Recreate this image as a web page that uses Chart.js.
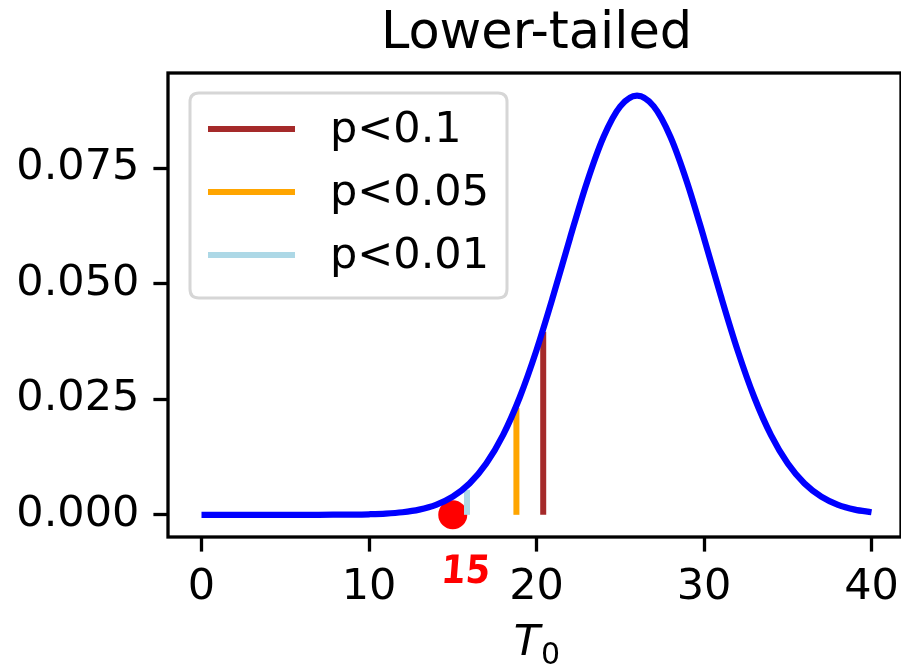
<!DOCTYPE html>
<html><head><meta charset="utf-8">
<script src="https://cdn.jsdelivr.net/npm/chart.js@4.4.1/dist/chart.umd.min.js"></script>
<style>
html,body{margin:0;padding:0;overflow:hidden;background:#fff;width:901px;height:666px}
canvas{display:block}
</style>
</head><body><canvas id="c" width="901" height="666" style="width:901px;height:666px"></canvas>
<script>
const titleText = 'Lower-tailed';
const tValues = [0,1,2,3,4,5,6,7,8,9,10,11,12,13,14,15,16,17,18,19,20,21,22,23,24,25,26,27,28,29,30,31,32,33,34,35,36,37,38,39,40];
const density = [0,0,0,0,0,0,0,0.000001,0.00002,0.00005,0.00012,0.00026,0.00056,0.00113,0.00216,0.00393,0.00677,0.01109,0.01724,0.02544,0.03564,0.04741,0.05988,0.07182,0.08176,0.08838,0.0907,0.08838,0.08176,0.07182,0.05988,0.04741,0.03564,0.02544,0.01724,0.01109,0.00677,0.00393,0.00216,0.00113,0.00056];
const cutoffLabels = ['p<0.1','p<0.05','p<0.01'];
const cutoffX = [20.4, 18.8, 15.85];
const cutoffTop = [0.0396, 0.0231, 0.0054];
const cutoffColors = ['#a52a2a','#ffa500','#add8e6'];
const observedT = 15;
const observedY = 0;
const observedLabel = '15';
const xTicks = [0,10,20,30,40];
const yTicks = [0,0.025,0.05,0.075];
const xRange = [-2, 41.76];
const yRange = [-0.0048, 0.0956];

const FONT = '"DejaVu Sans", sans-serif';
const FS = 43;

const datasets = [];
datasets.push({
  label: 'density',
  data: tValues.map((t,i)=>({x:t,y:density[i]})),
  showLine: true, borderColor: '#0000ff', borderWidth: 6.25,
  pointRadius: 0, cubicInterpolationMode: 'monotone', borderCapStyle: 'butt'
});
cutoffX.forEach((cx,i)=>{
  datasets.push({
    label: cutoffLabels[i],
    data: [{x:cx,y:0},{x:cx,y:cutoffTop[i]}],
    showLine: true, borderColor: cutoffColors[i], borderWidth: 6,
    pointRadius: 0, borderCapStyle: 'butt'
  });
});
datasets.push({
  label: 'observed',
  data: [{x:observedT,y:observedY}],
  showLine: false, pointRadius: 14.5, pointHoverRadius: 14.5,
  backgroundColor: '#ff0000', borderWidth: 0
});

const extras = {
  id: 'extras',
  afterDatasetsDraw(chart){
    const ctx = chart.ctx, a = chart.chartArea;
    const xs = chart.scales.x;
    ctx.save();
    // frame
    ctx.strokeStyle = '#000'; ctx.lineWidth = 3.3;
    ctx.strokeRect(a.left, a.top, a.right - a.left, a.bottom - a.top);
    // legend
    const lx = 190, ly = 93, lw = 317, lh = 205, r = 9;
    ctx.beginPath();
    ctx.moveTo(lx+r, ly); ctx.lineTo(lx+lw-r, ly); ctx.quadraticCurveTo(lx+lw, ly, lx+lw, ly+r);
    ctx.lineTo(lx+lw, ly+lh-r); ctx.quadraticCurveTo(lx+lw, ly+lh, lx+lw-r, ly+lh);
    ctx.lineTo(lx+r, ly+lh); ctx.quadraticCurveTo(lx, ly+lh, lx, ly+lh-r);
    ctx.lineTo(lx, ly+r); ctx.quadraticCurveTo(lx, ly, lx+r, ly); ctx.closePath();
    ctx.fillStyle = 'rgba(255,255,255,0.8)'; ctx.fill();
    ctx.strokeStyle = '#d6d6d6'; ctx.lineWidth = 3; ctx.stroke();
    cutoffLabels.forEach((lab,i)=>{
      const y = 129 + i*63;
      ctx.strokeStyle = cutoffColors[i]; ctx.lineWidth = 6; ctx.lineCap = 'butt';
      ctx.beginPath(); ctx.moveTo(208, y); ctx.lineTo(295, y); ctx.stroke();
      ctx.fillStyle = '#000'; ctx.font = FS + 'px ' + FONT;
      ctx.textAlign = 'left'; ctx.textBaseline = 'middle';
      ctx.fillText(lab, 330, y + 2);
    });
    ctx.textBaseline = 'alphabetic';
    // annotation "15" (hand-written style)
    ctx.save();
    ctx.translate(xs.getPixelForValue(observedT) + 12, 583);
    ctx.transform(0.9, 0, -0.08, 1, 0, 0);
    ctx.fillStyle = '#ff0000'; ctx.font = 'bold 39px ' + FONT;
    ctx.textAlign = 'center'; ctx.textBaseline = 'alphabetic';
    ctx.fillText(observedLabel, 0, 0);
    ctx.restore();
    // x axis label T_0 (centred on the full plot box, which extends past the canvas)
    ctx.fillStyle = '#000';
    ctx.textBaseline = 'alphabetic';
    ctx.font = 'italic ' + FS + 'px ' + FONT;
    ctx.textAlign = 'left';
    const tw = ctx.measureText('T').width;
    ctx.font = '30px ' + FONT;
    const sw = ctx.measureText('0').width;
    const cx = (a.left + xs.getPixelForValue(42))/2;
    const sx = cx - (tw + sw)/2;
    ctx.font = 'italic ' + FS + 'px ' + FONT;
    ctx.fillText('T', sx, 655);
    ctx.font = '30px ' + FONT;
    ctx.fillText('0', sx + tw + 1, 664);
    // title
    ctx.font = '51px ' + FONT;
    ctx.textAlign = 'center'; ctx.textBaseline = 'alphabetic';
    ctx.fillText(titleText, cx, 48);
    ctx.restore();
  }
};

const zeroPad = s => { s.paddingLeft = 0; s.paddingRight = 0; s.paddingTop = 0; s.paddingBottom = 0; };

new Chart(document.getElementById('c'), {
  type: 'scatter',
  data: { datasets },
  options: {
    responsive: false, maintainAspectRatio: false, animation: false, devicePixelRatio: 1,
    layout: { autoPadding: false, padding: { left: 0, right: 0, top: 73, bottom: 0 } },
    plugins: {
      legend: { display: false },
      tooltip: { enabled: false },
      title: { display: false }
    },
    scales: {
      x: {
        type: 'linear', min: xRange[0], max: xRange[1],
        afterBuildTicks: s => { s.ticks = xTicks.map(v=>({value:v})); },
        afterFit: s => { s.height = 129; zeroPad(s); },
        ticks: { autoSkip: false, maxRotation: 0, color: '#000', padding: 10,
          font: { family: FONT, size: FS }, callback: v => String(v) },
        grid: { display: true, drawOnChartArea: false, drawTicks: true, tickLength: 14.6, tickWidth: 3.3, tickColor: '#000' },
        border: { display: false }
      },
      y: {
        type: 'linear', min: yRange[0], max: yRange[1],
        afterBuildTicks: s => { s.ticks = yTicks.map(v=>({value:v})); },
        afterFit: s => { s.width = 168; zeroPad(s); },
        ticks: { autoSkip: false, color: '#000', padding: 14,
          font: { family: FONT, size: FS }, callback: v => Number(v).toFixed(3) },
        grid: { display: true, drawOnChartArea: false, drawTicks: true, tickLength: 14.6, tickWidth: 3.3, tickColor: '#000' },
        border: { display: false }
      }
    }
  },
  plugins: [extras]
});
</script>
</body></html>
